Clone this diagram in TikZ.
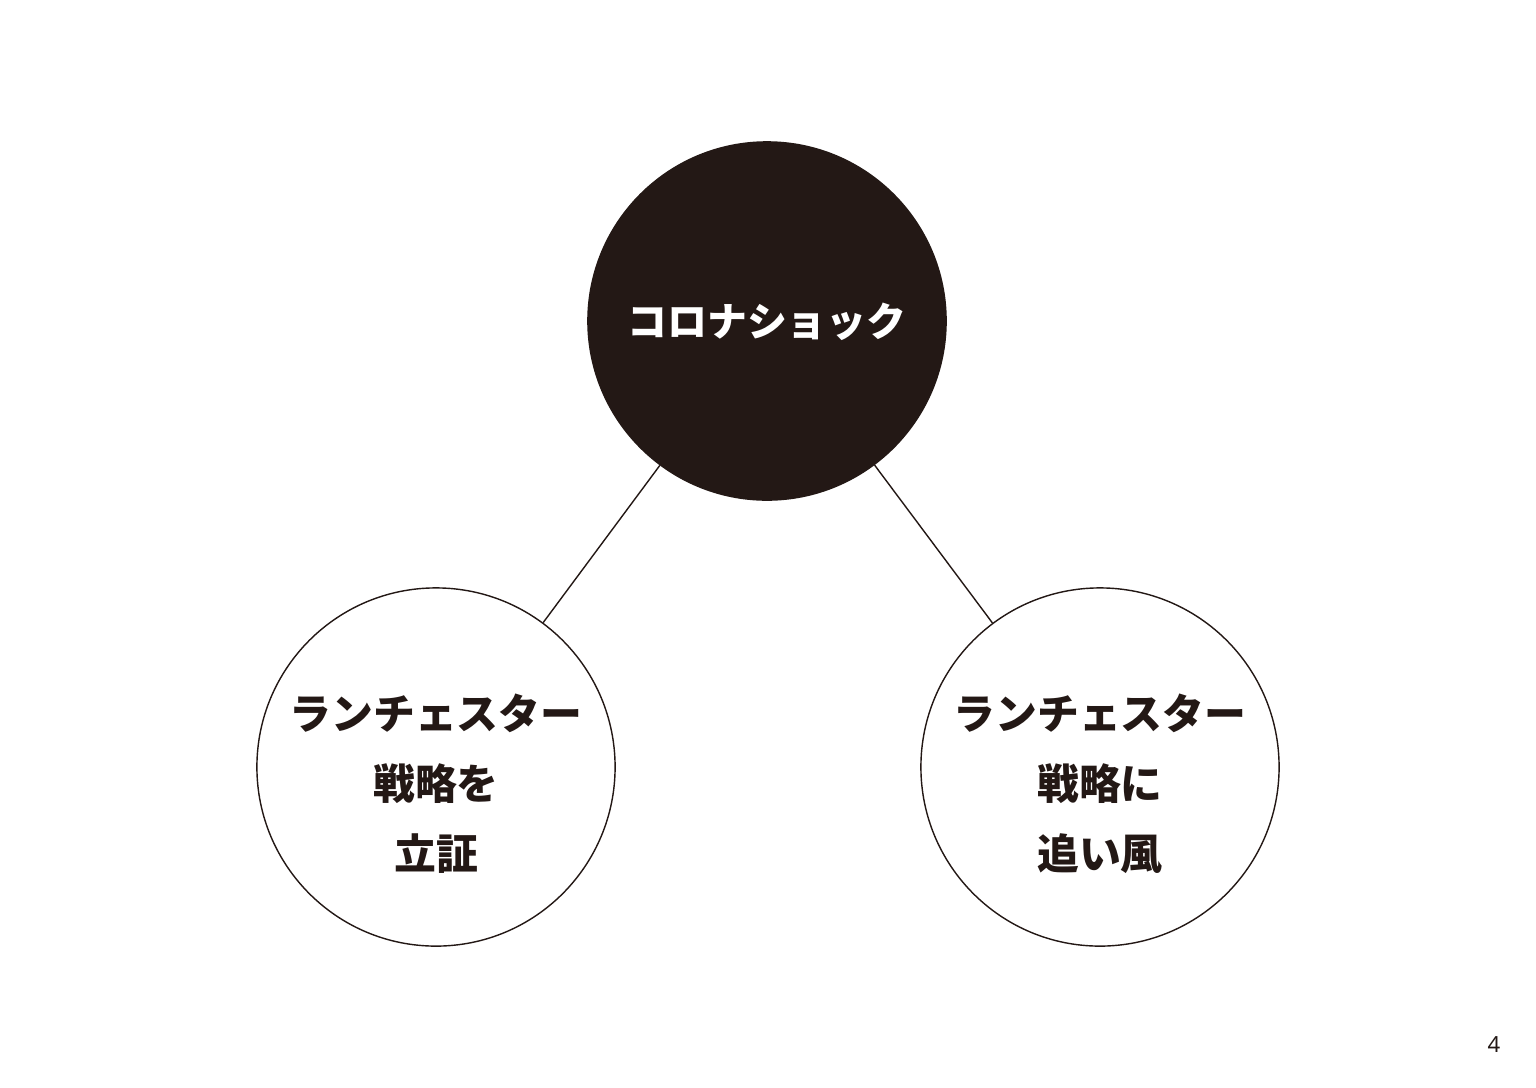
\documentclass[tikz,border=0pt]{standalone}
\usepackage{fontspec}
\newfontfamily\cjk{Noto Sans CJK JP}
\setsansfont{Noto Sans}
\definecolor{ink}{HTML}{231815}
\begin{document}
\begin{tikzpicture}[x=0.01cm,y=-0.01cm,
  bigc/.style={circle,minimum size=3.58cm,inner sep=0pt,draw=ink,line width=0.4pt},
  lbl/.style={font=\cjk\bfseries\fontsize{11.9pt}{19.9pt}\selectfont,align=center,text=ink},
  link/.style={draw=ink,line width=0.4pt}]
\useasboundingbox (0,0) rectangle (1536,1087);
\node[bigc,fill=ink] (top) at (767,321) {};
\node[bigc,fill=white] (left) at (436,767) {};
\node[bigc,fill=white] (right) at (1100,767) {};
\draw[link] (top) -- (left);
\draw[link] (top) -- (right);
\node[lbl,text=white,font=\cjk\bfseries\fontsize{11.35pt}{19.9pt}\selectfont] (ttop) at (767,322) {コロナショック};
\node[lbl] (tleft) at (436,784) {ランチェスター\\戦略を\\立証};
\node[lbl] (tright) at (1100,784) {ランチェスター\\戦略に\\追い風};
\node[font=\sffamily\fontsize{6.3pt}{7pt}\selectfont,text=ink] (pg) at (1494,1045) {4};
\end{tikzpicture}
\end{document}
